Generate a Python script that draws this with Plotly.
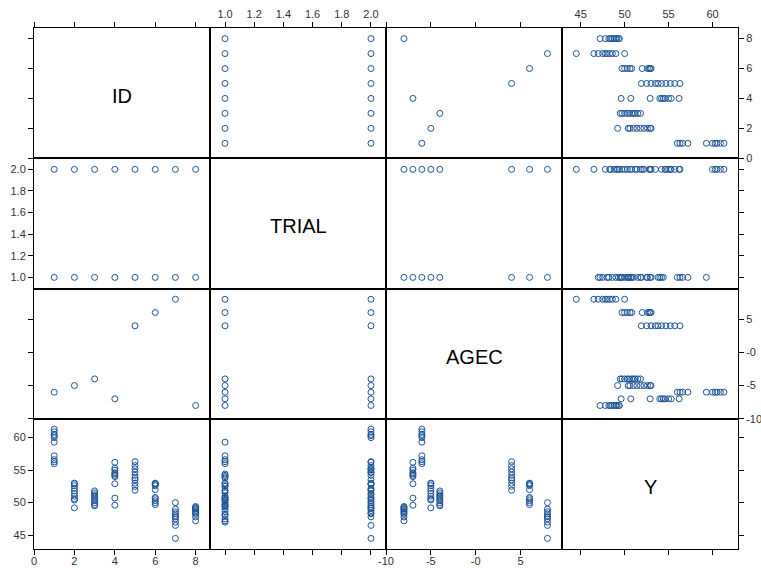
import plotly.graph_objects as go
from plotly.subplots import make_subplots

# ---- data ----
ids = [1, 2, 3, 4, 5, 6, 7, 8]
agec_by_id = [-6, -5, -4, -7, 4, 6, 8, -8]
y_trial1 = [
    [56.0, 56.3, 56.6, 57.2, 59.3],
    [50.4, 51.0, 51.8, 52.6, 53.0],
    [49.5, 50.0, 50.5, 51.0, 51.5],
    [49.6, 50.7, 52.9, 54.0, 54.4],
    [51.9, 52.5, 53.0, 53.8, 54.2],
    [49.7, 50.3, 50.8, 52.6, 52.9],
    [47.0, 47.5, 48.0, 48.6, 49.0],
    [47.2, 48.2, 48.6, 49.0, 49.3],
]
y_trial2 = [
    [60.0, 60.3, 60.5, 60.9, 61.3],
    [49.2, 50.6, 51.4, 52.2, 52.9],
    [49.7, 50.3, 50.8, 51.2, 51.8],
    [54.2, 54.6, 55.0, 55.3, 56.2],
    [53.5, 54.7, 55.2, 55.7, 56.3],
    [50.0, 50.6, 52.0, 52.8, 53.0],
    [44.5, 46.5, 47.8, 48.3, 50.0],
    [47.8, 48.4, 48.8, 49.1, 49.4],
]
var_names = ["ID", "TRIAL", "AGEC", "Y"]
id_ticks = [0, 2, 4, 6, 8]
trial_ticks = [1.0, 1.2, 1.4, 1.6, 1.8, 2.0]
trial_labels = ["1.0", "1.2", "1.4", "1.6", "1.8", "2.0"]
agec_ticks = [-10, -5, 0, 5]
agec_labels = ["-10", "-5", "-0", "5"]
y_ticks = [45, 50, 55, 60]
y_labels = ["45", "50", "55", "60"]

# build columns
cols = {"ID": [], "TRIAL": [], "AGEC": [], "Y": []}
for i, pid in enumerate(ids):
    for trial, ylist in ((1, y_trial1[i]), (2, y_trial2[i])):
        for yv in ylist:
            cols["ID"].append(pid)
            cols["TRIAL"].append(trial)
            cols["AGEC"].append(agec_by_id[i])
            cols["Y"].append(yv)

ranges = {
    "ID": [0, 8.71],
    "TRIAL": [0.897, 2.103],
    "AGEC": [-10, 9.62],
    "Y": [42.87, 62.9],
}
ticks = {
    "ID": (id_ticks, [str(t) for t in id_ticks]),
    "TRIAL": (trial_ticks, trial_labels),
    "AGEC": (agec_ticks, agec_labels),
    "Y": (y_ticks, y_labels),
}

MARK = "#1F5596"
FONT = "Liberation Sans, Arial, sans-serif"

fig = make_subplots(rows=4, cols=4, horizontal_spacing=0, vertical_spacing=0)

for r in range(1, 5):
    for c in range(1, 5):
        vx = var_names[c - 1]
        vy = var_names[r - 1]
        idx = (r - 1) * 4 + c
        if r != c:
            # unique pairs (coincident observations drawn once, as in the reference)
            pairs = list(dict.fromkeys(zip(cols[vx], cols[vy])))
            fig.add_trace(
                go.Scatter(
                    x=[p[0] for p in pairs], y=[p[1] for p in pairs], mode="markers",
                    marker=dict(symbol="circle-open", size=6, color=MARK,
                                line=dict(width=1, color=MARK)),
                    showlegend=False, hoverinfo="x+y",
                ),
                row=r, col=c,
            )
        else:
            # empty trace so the diagonal panel's axes are drawn
            fig.add_trace(go.Scatter(x=[None], y=[None], mode="markers",
                                     showlegend=False, hoverinfo="skip"),
                          row=r, col=c)
            sfx = "" if idx == 1 else str(idx)
            fig.add_annotation(
                text=vx, xref=f"x{sfx} domain", yref=f"y{sfx} domain",
                x=0.5, y=0.5, showarrow=False, yshift=-3,
                font=dict(family=FONT, size=20, color="#000000"),
            )
        xa = dict(range=ranges[vx], tickvals=ticks[vx][0], ticktext=ticks[vx][1],
                  showline=True, mirror=True, linecolor="#000000", linewidth=1,
                  showgrid=False, zeroline=False, ticklen=5, tickwidth=1,
                  tickcolor="#000000", fixedrange=True, automargin=False,
                  tickfont=dict(family=FONT, size=11, color="#333333"))
        if r == 1:
            xa.update(side="top", ticks="outside", showticklabels=(c in (2, 4)))
        elif r == 4:
            xa.update(side="bottom", ticks="outside", showticklabels=(c in (1, 3)),
                      ticklabelstandoff=-3)
        else:
            xa.update(ticks="", showticklabels=False)
        ya = dict(range=ranges[vy], tickvals=ticks[vy][0], ticktext=ticks[vy][1],
                  showline=True, mirror=True, linecolor="#000000", linewidth=1,
                  showgrid=False, zeroline=False, ticklen=5, tickwidth=1,
                  tickcolor="#000000", fixedrange=True, automargin=False,
                  tickfont=dict(family=FONT, size=11, color="#333333"))
        if c == 1:
            ya.update(side="left", ticks="outside", showticklabels=(r in (2, 4)))
        elif c == 4:
            ya.update(side="right", ticks="outside", showticklabels=(r in (1, 3)))
        else:
            ya.update(ticks="", showticklabels=False)
        fig.update_xaxes(row=r, col=c, **xa)
        fig.update_yaxes(row=r, col=c, **ya)

fig.update_layout(
    width=761, height=568, autosize=False,
    margin=dict(l=34, r=23, t=28, b=19),
    paper_bgcolor="white", plot_bgcolor="white",
    font=dict(family=FONT, size=11, color="#333333"),
    showlegend=False,
)

fig.write_html("out.html")
